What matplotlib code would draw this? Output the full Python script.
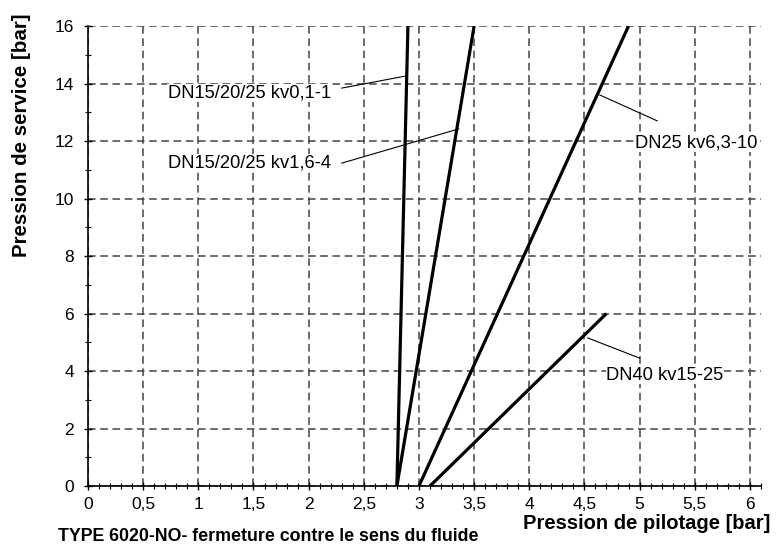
import numpy as np
import matplotlib
matplotlib.use('Agg')
import matplotlib.pyplot as plt
from matplotlib.ticker import MultipleLocator, FuncFormatter

plt.rcParams['font.family'] = ['Liberation Sans', 'DejaVu Sans']

# curves: pilot pressure (x) vs service pressure (y)
names = ['DN15/20/25 kv0,1-1', 'DN15/20/25 kv1,6-4', 'DN25 kv6,3-10', 'DN40 kv15-25']
x_start = [2.8, 2.8, 3.0, 3.1]
x_end = [2.9, 3.5, 4.9, 4.7]
y_start = [0, 0, 0, 0]
y_end = [16, 16, 16, 6]

# leader lines: start near the label, end on the curve
label_xy = [(2.30, 13.84), (2.30, 11.23), (5.16, 12.7), (5.0, 4.45)]
arrow_xy = [(2.88, 14.26), (3.36, 12.42), (4.64, 13.6), (4.53, 5.15)]
label_ha = ['right', 'right', 'left', 'left']
label_text_xy = [(2.20, 13.67), (2.20, 11.23), (4.96, 11.93), (4.70, 3.86)]

fig = plt.figure(figsize=(7.77, 5.44), dpi=100)
ax = fig.add_axes([0.1133, 0.1066, 0.866, 0.8456])

for xs, xe, ys, ye in zip(x_start, x_end, y_start, y_end):
    ax.plot([xs, xe], [ys, ye], color='black', linewidth=2.3, solid_capstyle='butt', zorder=4)

for name, lxy, axy, ha, txy in zip(names, label_xy, arrow_xy, label_ha, label_text_xy):
    ax.plot([lxy[0], axy[0]], [lxy[1], axy[1]], color='black', linewidth=0.8, zorder=3)
    ax.text(txy[0], txy[1], name, ha=ha, va='center', fontsize=13.2, zorder=5,
            bbox=dict(facecolor='white', edgecolor='none', pad=0.5))

ax.set_xlim(0, 6.1)
ax.set_ylim(0, 16)
ax.xaxis.set_major_locator(MultipleLocator(0.5))
ax.xaxis.set_minor_locator(MultipleLocator(0.1))
ax.yaxis.set_major_locator(MultipleLocator(2))
ax.yaxis.set_minor_locator(MultipleLocator(1))
ax.xaxis.set_major_formatter(FuncFormatter(lambda v, p: ('%g' % v).replace('.', ',')))

ax.grid(True, which='major', color='#444444', linestyle=(0, (5, 3)), linewidth=1.1, zorder=1)
ax.set_axisbelow(True)
for s in ['top', 'right']:
    ax.spines[s].set_visible(False)
for s in ['left', 'bottom']:
    ax.spines[s].set_linewidth(1.2)

ax.tick_params(which='major', direction='inout', length=6, width=1, labelsize=12.5, pad=5)
ax.tick_params(which='minor', direction='inout', length=5, width=0.8)
ax.tick_params(axis='y', pad=7)

fig.text(0.028, 0.752, 'Pression de service [bar]', rotation=90, ha='center', va='center',
         fontsize=14.8, fontweight='bold')
fig.text(0.991, 0.038, 'Pression de pilotage [bar]', ha='right', va='center',
         fontsize=14.5, fontweight='bold')
fig.text(0.075, 0.014, 'TYPE 6020-NO- fermeture contre le sens du fluide', ha='left', va='center',
         fontsize=12.8, fontweight='bold')

fig.savefig('out.png', dpi=100)
